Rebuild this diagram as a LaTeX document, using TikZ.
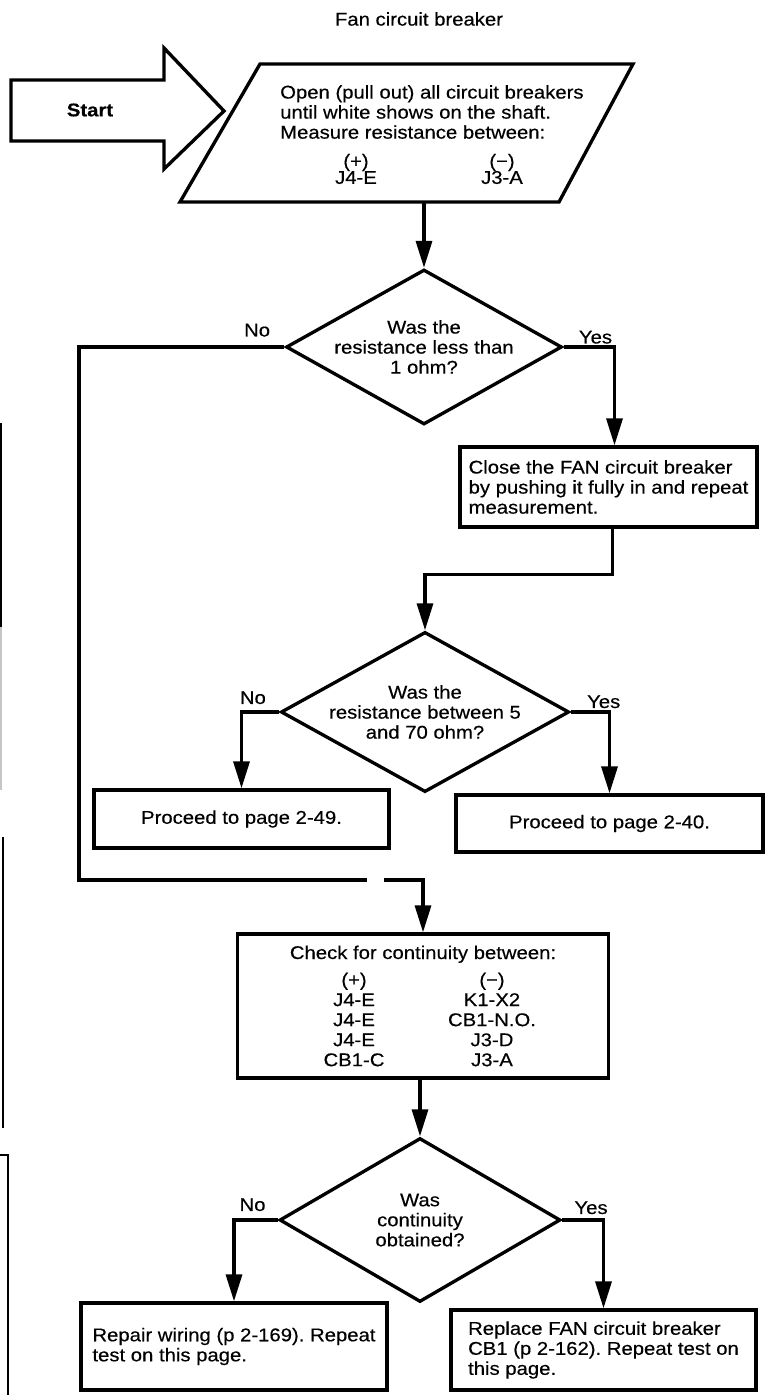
\documentclass[tikz,border=0pt]{standalone}
\usepackage{fontspec}
\setmainfont{Liberation Sans}[FakeStretch=1.1, FakeBold=0.4]
\usetikzlibrary{arrows.meta, positioning, shapes.geometric}

\frenchspacing
\newcommand{\flowfont}{\fontsize{10.5pt}{11.4pt}\selectfont}
\newcommand{\pinpair}[2]{\makebox[2.76cm]{#1}\makebox[2.76cm]{#2}}

\begin{document}
\begin{tikzpicture}[
        x = 0.02cm, y = -0.02cm,
        every node/.style = {font = \flowfont},
        stepbox/.style = {
            rectangle,
            draw       = black,
            line width = 1.9pt,
            inner sep  = 0pt,
            align      = center
        },
        question/.style = {
            diamond,
            draw           = black,
            line width     = 1.9pt,
            inner sep      = 0pt,
            shape aspect   = 1.8,
            align          = center,
            minimum width  = 5.46cm,
            minimum height = 3.1cm
        },
        answer/.style = {inner sep = 0pt},
        wire/.style   = {line width = 1.9pt},
        flow/.style   = {line width = 1.9pt, -{Triangle[length=0.54cm, width=0.32cm]}}
    ]

    \useasboundingbox (0,0) rectangle (766,1395);

    \node (title) at (419,19) {Fan circuit breaker};

    % entry arrow
    \draw[wire] (11,80) -- (164,80) -- (164,48) -- (224,111)
        -- (164,169) -- (164,141) -- (11,141) -- cycle;
    \node[font = \flowfont\bfseries] (start) at (90,110) {Start};

    % first measurement (parallelogram)
    \draw[wire] (260,64) -- (633,64) -- (559,202) -- (180,202) -- cycle;
    \coordinate (measure) at (424,202);
    \node[anchor = north west, align = left] (opentxt) at (274,79) {
        Open (pull out) all circuit breakers\\
        until white shows on the shaft.\\
        Measure resistance between:
    };
    \node[align = center] (plusA)  at (356,169) {(+)\\[-2pt]J4-E};
    \node[align = center] (minusA) at (502,169) {(−)\\[-2pt]J3-A};

    \node[question] (ask1) at (424,347) {Was the\\resistance less than\\1 ohm?};

    \node[stepbox, minimum width = 5.94cm, minimum height = 1.6cm, align = left]
        (close) at (608.5,487) {
        Close the FAN circuit breaker\\
        by pushing it fully in and repeat\\
        measurement.
    };

    \node[question, minimum width = 5.48cm, minimum height = 3.16cm]
        (ask2) at (425,712) {Was the\\resistance between 5\\and 70 ohm?};

    \node[stepbox, minimum width = 5.9cm, minimum height = 1.16cm]
        (goL) at (241.5,819) {Proceed to page 2-49.};
    \node[stepbox, minimum width = 6.14cm, minimum height = 1.14cm]
        (goR) at (609.5,823.5) {Proceed to page 2-40.};

    % continuity check
    \node[stepbox, minimum width = 7.42cm, minimum height = 2.88cm] (check) at (423,1006) {
        Check for continuity between:\\[4pt]
        \pinpair{(+)}{(−)}\\
        \pinpair{J4-E}{K1-X2}\\
        \pinpair{J4-E}{CB1-N.O.}\\
        \pinpair{J4-E}{J3-D}\\
        \pinpair{CB1-C}{J3-A}
    };

    \node[question, minimum width = 5.62cm, minimum height = 3.28cm]
        (ask3) at (420,1220) {Was\\continuity\\obtained?};

    \node[stepbox, minimum width = 6.12cm, minimum height = 1.74cm, align = left]
        (fixwire) at (234,1346.5) {
        Repair wiring (p 2-169). Repeat\\
        test on this page.
    };
    \node[stepbox, minimum width = 6.1cm, minimum height = 1.6cm, align = left]
        (swapcb) at (603.5,1350) {
        Replace FAN circuit breaker\\
        CB1 (p 2-162). Repeat test on\\
        this page.
    };

    % branch labels
    \node[answer, above left  = 0.2cm and 0.28cm of ask1.west] (no1)  {No};
    \node[answer, above right = 0.06cm and 0.3cm of ask1.east] (yes1) {Yes};
    \node[answer, above left  = 0.15cm and 0.26cm of ask2.west] (no2)  {No};
    \node[answer, above right = 0.07cm and 0.32cm of ask2.east] (yes2) {Yes};
    \node[answer, above left  = 0.17cm and 0.24cm of ask3.west] (no3)  {No};
    \node[answer, above right = 0.11cm and 0.24cm of ask3.east] (yes3) {Yes};

    % connectors
    \coordinate (loopturn) at (79,880);
    \coordinate (gapL)     at (367,880);
    \coordinate (gapR)     at (384,880);

    \draw[flow] (measure) -- (ask1.north);
    \draw[flow] (ask1.east) -| ([xshift=0.12cm]close.north);
    \draw[wire] (ask1.west) -| (loopturn) -- (gapL);
    \draw[flow] (gapR) -| (check.north);
    \draw[flow] ([xshift=0.08cm]close.south) -- ++(0,46) -| (ask2.north);
    \draw[flow] (ask2.west) -| (goL.north);
    \draw[flow] (ask2.east) -| (goR.north);
    \draw[flow] (check.south -| ask3.north) -- (ask3.north);
    \draw[flow] (ask3.west) -| (fixwire.north);
    \draw[flow] (ask3.east) -| (swapcb.north);

    % edge of the facing page
    \draw[line width = 1.2pt] (1,423) -- (1,627);
    \draw[line width = 1.2pt, gray!45] (1,627) -- (1,790);
    \draw[line width = 1.4pt] (3,837) -- (3,1128);
    \draw[line width = 1.4pt] (0,1155) -- (8,1155) -- (8,1395);
\end{tikzpicture}
\end{document}
